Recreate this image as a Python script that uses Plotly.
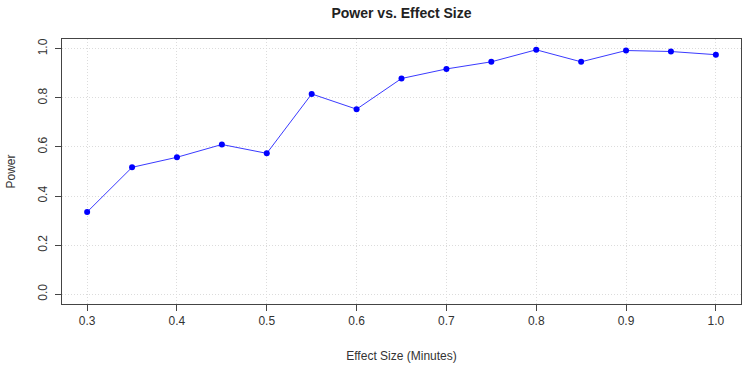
import plotly.graph_objects as go

effect_size = [0.30, 0.35, 0.40, 0.45, 0.50, 0.55, 0.60, 0.65, 0.70, 0.75, 0.80, 0.85, 0.90, 0.95, 1.00]
power = [0.335, 0.517, 0.558, 0.610, 0.574, 0.816, 0.754, 0.879, 0.918, 0.947, 0.996, 0.947, 0.993, 0.989, 0.976]
x_ticks = [0.3, 0.4, 0.5, 0.6, 0.7, 0.8, 0.9, 1.0]
x_tick_labels = ["0.3", "0.4", "0.5", "0.6", "0.7", "0.8", "0.9", "1.0"]
y_ticks = [0.0, 0.2, 0.4, 0.6, 0.8, 1.0]
y_tick_labels = ["0.0", "0.2", "0.4", "0.6", "0.8", "1.0"]

font = "Liberation Sans, Arial, sans-serif"

fig = go.Figure()
fig.add_trace(go.Scatter(
    x=effect_size, y=power, mode="lines+markers",
    line=dict(color="#3a3aff", width=1),
    marker=dict(color="#0000ff", size=6),
    showlegend=False,
))

fig.update_layout(
    width=745, height=368,
    margin=dict(l=62, r=4, t=39, b=64),
    paper_bgcolor="white", plot_bgcolor="white",
    font=dict(family=font, size=12, color="#333333"),
    title=dict(text="<b>Power vs. Effect Size</b>", x=(62 + 741) / 2 / 745, xanchor="center",
               y=1 - 13 / 368, yanchor="middle", font=dict(size=14, color="#222222")),
)
fig.update_xaxes(
    range=[0.272, 1.028], tickvals=x_ticks, ticktext=x_tick_labels,
    showgrid=True, gridcolor="#dcdcdc", griddash="1px,2px", gridwidth=1,
    showline=True, linecolor="#444444", linewidth=1, mirror=True,
    ticks="outside", ticklen=6, tickcolor="#444444", zeroline=False,
    title=dict(text="Effect Size (Minutes)", standoff=24, font=dict(size=12)),
)
fig.update_yaxes(
    range=[-0.04, 1.04], tickvals=y_ticks, ticktext=y_tick_labels, tickangle=-90,
    showgrid=True, gridcolor="#dcdcdc", griddash="1px,2px", gridwidth=1,
    showline=True, linecolor="#444444", linewidth=1, mirror=True,
    ticks="outside", ticklen=6, tickcolor="#444444", zeroline=False,
    ticklabelstandoff=3,
    title=dict(text="Power", standoff=18, font=dict(size=12)),
)

fig.write_html("out.html")
